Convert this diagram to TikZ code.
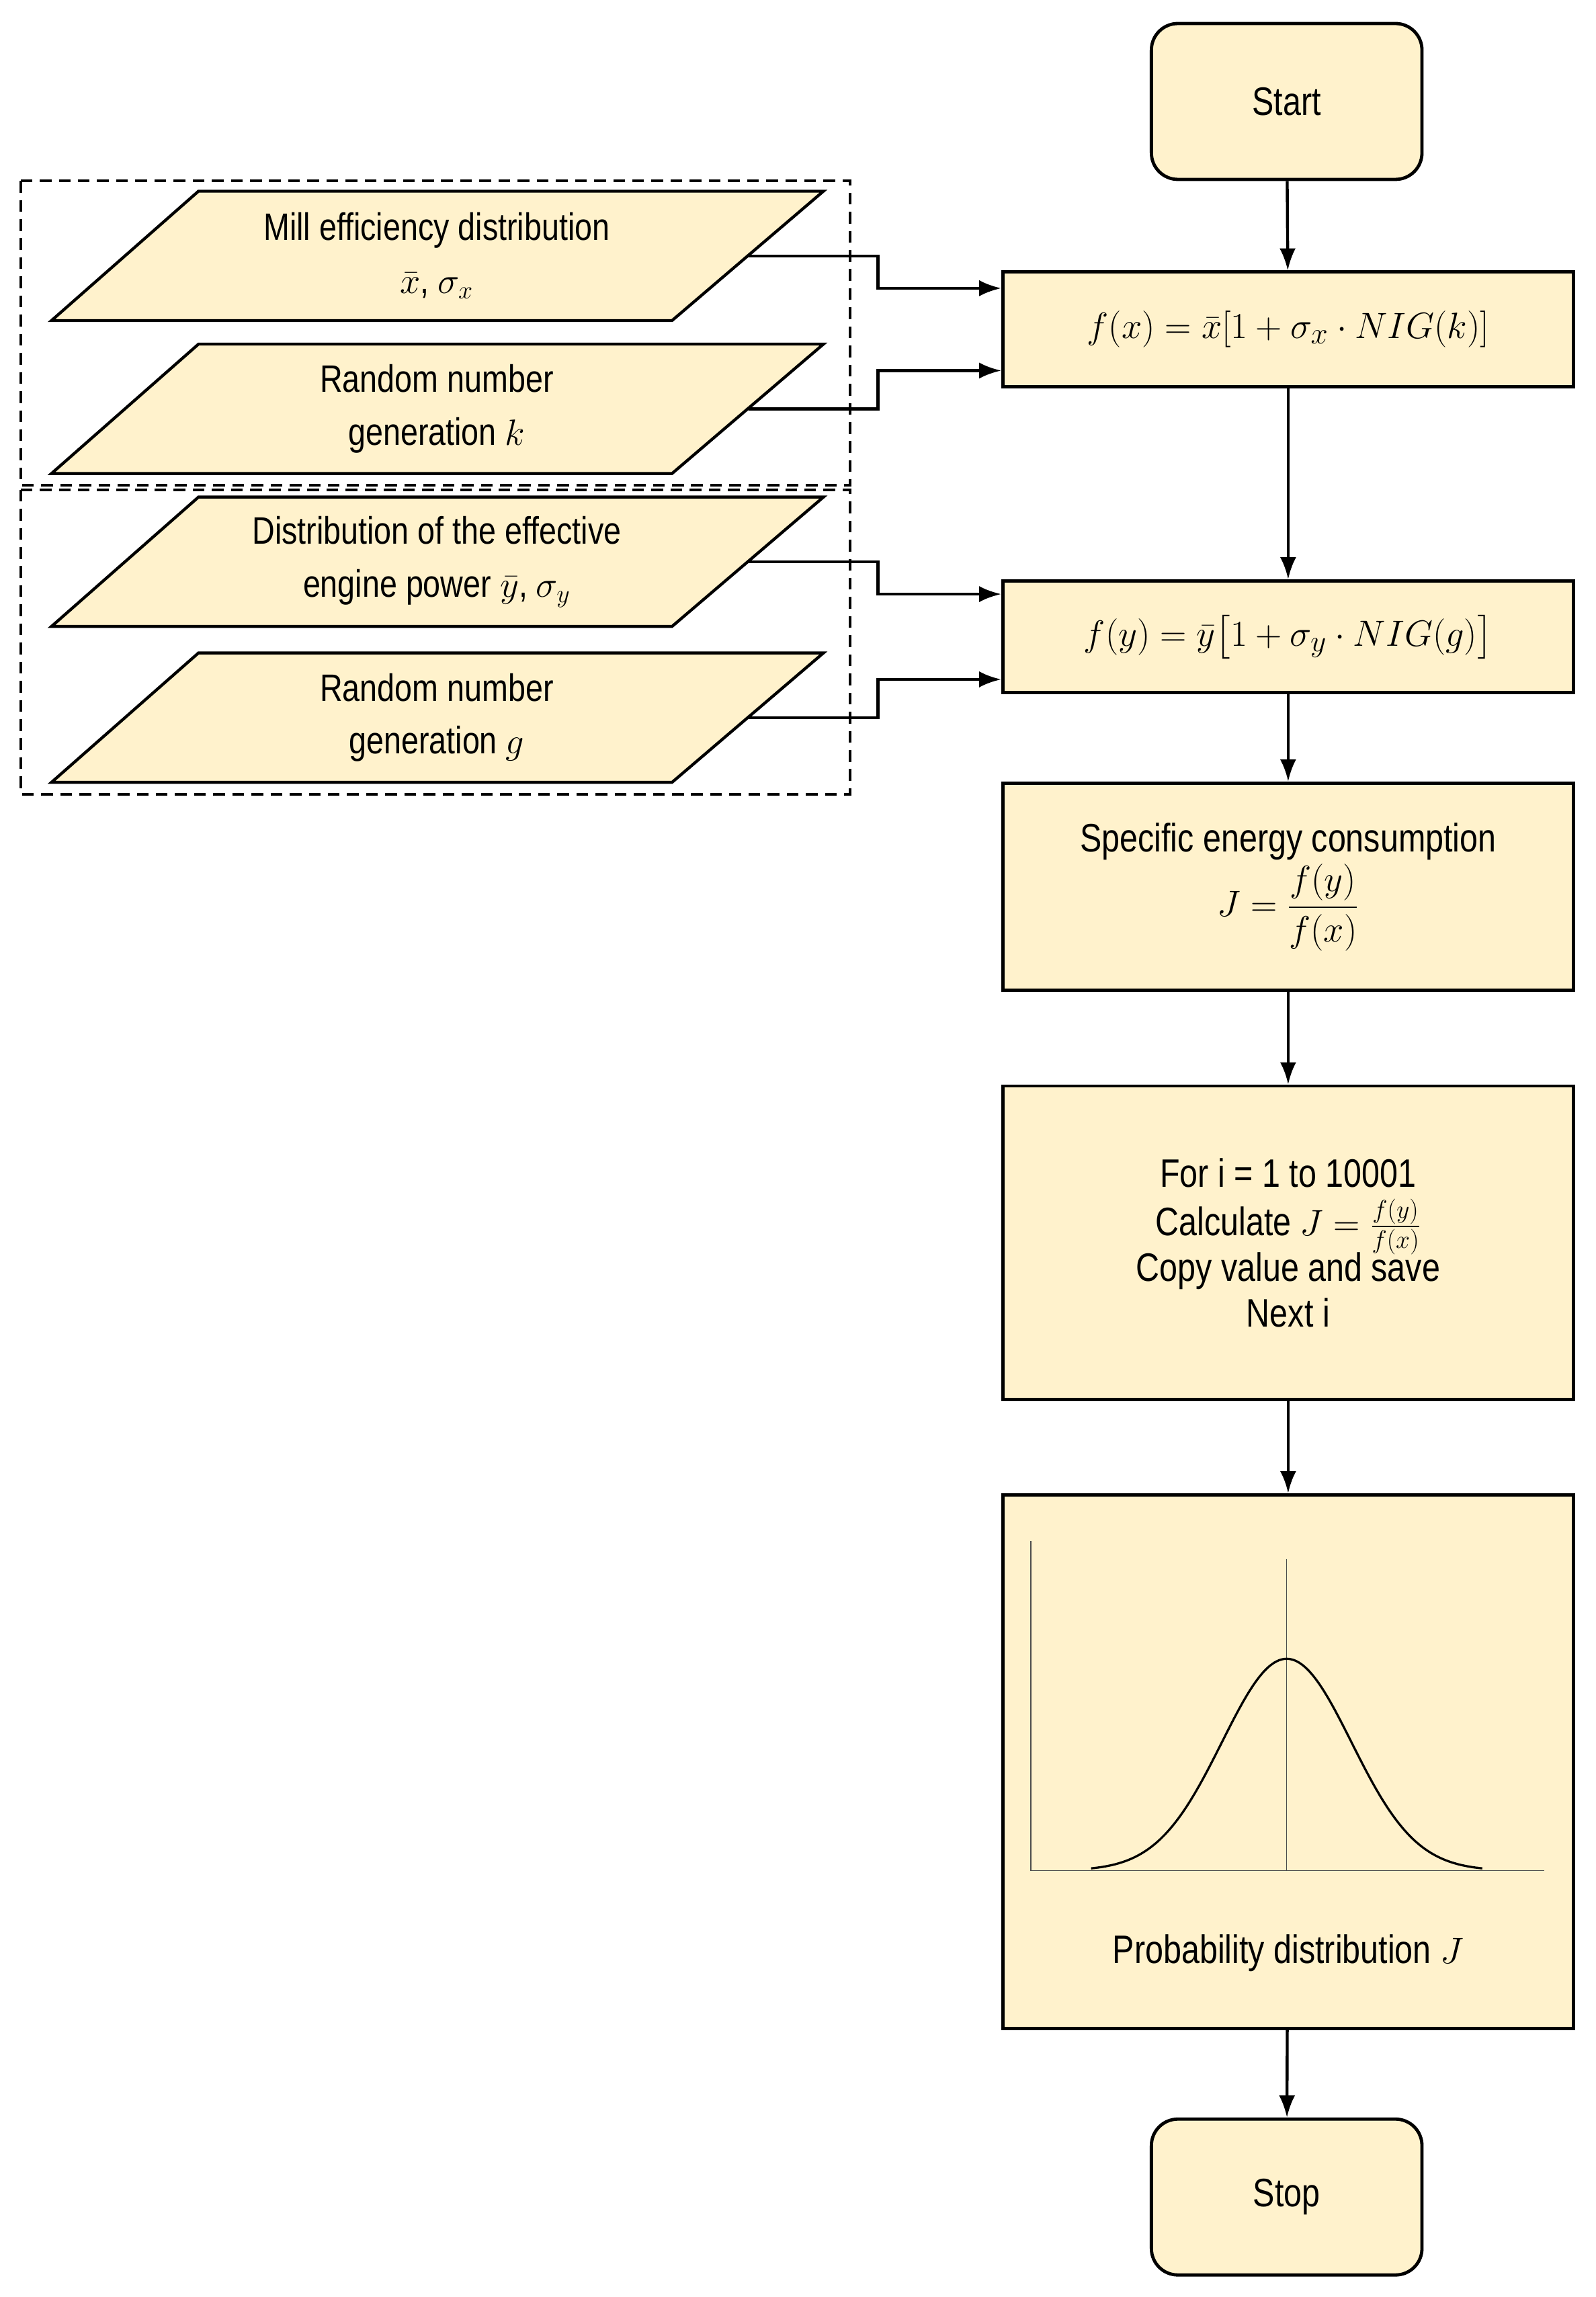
\documentclass[tikz,border=0pt]{standalone}
\usepackage{amsmath}
\usepackage{fontspec}
\setmainfont{Liberation Sans}[FakeStretch=0.82]
\usetikzlibrary{arrows.meta}
\definecolor{boxfill}{RGB}{255,242,204}
\tikzset{
  box/.style={draw, line width=2.2pt, fill=boxfill, minimum width=388pt, inner sep=4pt, align=center, font=\fontsize{27}{35}\selectfont},
  term/.style={box, rounded corners=18pt, minimum width=184pt, minimum height=106pt},
  parabox/.style={draw, line width=2pt, fill=boxfill},
  paratext/.style={align=center, font=\fontsize{26}{36}\selectfont},
  arr/.style={-{Latex[length=15pt,width=11pt]}, line width=2pt},
  grp/.style={line width=1.8pt, dash pattern=on 8pt off 5pt}
}
\newcommand\parashape[1]{\draw[parabox] ([shift={(-262,44)}]#1) -- ([shift={(160,44)}]#1) -- ([shift={(263,-44)}]#1) -- ([shift={(-162,-44)}]#1) -- cycle;}
\begin{document}
\begin{tikzpicture}[x=1pt,y=-1pt]
\useasboundingbox (0,0) rectangle (1085,1562);

% main column
\node[term] (start) at (875,69) {Start};
\node[box, minimum height=78pt, font=\fontsize{31}{36}\selectfont] (fx) at (876,224) {$f(x)=\bar{x}[1+\sigma_x\cdot NIG(k)]$};
\node[box, minimum height=76pt, font=\fontsize{31}{36}\selectfont] (fy) at (876,433) {$f(y)=\bar{y}\bigl[1+\sigma_y\cdot NIG(g)\bigr]$};
\node[box, minimum height=141pt] (spec) at (876,603) {Specific energy consumption\\[2pt] $\displaystyle J=\frac{f(y)}{f(x)}$};
\node[box, minimum height=213pt, text depth=0pt] (loop) at (876,845) {For i = 1 to 10001\\[-2pt] Calculate $J=\frac{f(y)}{f(x)}$\\[-4pt] Copy value and save\\[-4pt] Next i};
\node[box, minimum height=363pt] (prob) at (876,1198) {};
\node[font=\fontsize{27}{35}\selectfont] (problbl) at (876,1328) {Probability distribution $J$};
\node[term] (stop) at (875,1494) {Stop};

% bell curve
\draw[line width=0.6pt, gray!60!black] (701,1048) -- (701,1272) -- (1050,1272);
\draw[line width=0.6pt, gray!60!black] (875,1060) -- (875,1272);
\draw[line width=1.5pt, domain=742:1008, samples=80, smooth] plot (\x, {1272-144*exp(-((\x-875)/44)^2/2)});

% inputs
\coordinate (millc) at (297,174);
\coordinate (rndkc) at (297,278);
\coordinate (distc) at (297,382);
\coordinate (rndgc) at (297,488);
\parashape{millc}
\parashape{rndkc}
\parashape{distc}
\parashape{rndgc}
\node[paratext] (mill) at (millc) {Mill efficiency distribution\\ $\bar{x}$, $\sigma_x$};
\node[paratext] (rndk) at (rndkc) {Random number\\ generation $k$};
\node[paratext] (dist) at (distc) {Distribution of the effective\\ engine power $\bar{y}$, $\sigma_y$};
\node[paratext] (rndg) at (rndgc) {Random number\\ generation $g$};

\draw[grp] (14,123) rectangle (578,330);
\draw[grp] (14,333) rectangle (578,540);

\coordinate (jx) at (597,0);

% connectors
\draw[arr] (start) -- (fx);
\draw[arr] (fx) -- (fy);
\draw[arr] (fy) -- (spec);
\draw[arr] (spec) -- (loop);
\draw[arr] (loop) -- (prob);
\draw[arr] (prob) -- (stop);
\draw[arr] ([xshift=212pt]millc) -- (millc -| jx) |- ([yshift=28pt]fx.west);
\draw[arr] ([xshift=212pt]rndkc) -- (rndkc -| jx) |- ([yshift=-28pt]fx.west);
\draw[arr] ([xshift=212pt]distc) -- (distc -| jx) |- ([yshift=29pt]fy.west);
\draw[arr] ([xshift=212pt]rndgc) -- (rndgc -| jx) |- ([yshift=-29pt]fy.west);
\end{tikzpicture}
\end{document}
